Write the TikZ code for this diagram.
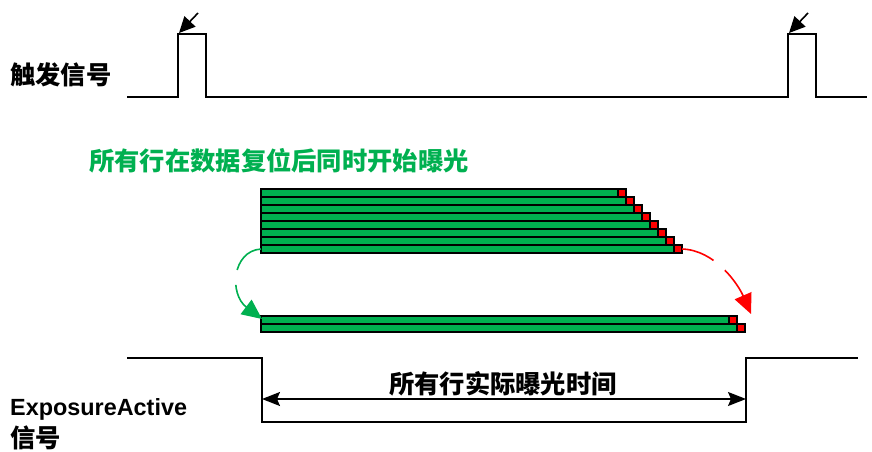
\documentclass[tikz,border=0pt]{standalone}
\usepackage{fontspec}
\setmainfont{Liberation Sans}
\newfontfamily\cjk{Noto Sans CJK SC}
\usetikzlibrary{arrows.meta}
\definecolor{rowgreen}{RGB}{0, 176, 80}
\definecolor{rowred}{RGB}{255, 0, 0}
\definecolor{linecol}{RGB}{0, 0, 0}
\tikzset{
  sig/.style      = {draw=linecol, line width=1.6pt, line join=miter},
  cjklbl/.style   = {font=\cjk\bfseries\fontsize{25.3}{29}\selectfont, inner sep=0pt},
  latlbl/.style   = {font=\bfseries\fontsize{23.4}{27}\selectfont, inner sep=0pt},
  rowbar/.style   = {draw=linecol, line width=1.4pt, fill=rowgreen},
  rowend/.style   = {draw=linecol, line width=1.4pt, fill=rowred},
  % the trigger marks are short solid pointers onto each rising edge
  trig/.style     = {draw=linecol, line width=1.6pt,
                     -{Triangle[length=16pt, width=15pt]}},
  % the row hand-over is dashed, green at the start, red at the end
  hop/.style      = {line width=1.6pt, dash pattern=on 34pt off 15pt,
                     -{Triangle[length=20pt, width=18pt]}},
  span/.style     = {draw=linecol, line width=1.6pt,
                     {Stealth[length=18pt, width=14pt, inset=3pt]}-{Stealth[length=18pt, width=14pt, inset=3pt]}},
}

\begin{document}
\begin{tikzpicture}[x=1pt, y=-1pt]
  \useasboundingbox (0,0) rectangle (872,452);

  %% ================ trigger signal ================
  \node[cjklbl, anchor=west] (triglbl) at (10,75) {触发信号};
  \draw[sig] (127,97) -- (178,97) -- (178,34) -- (206,34) -- (206,97)
    -- (788,97) -- (788,34) -- (816,34) -- (816,97) -- (867,97);
  \coordinate (edgeA) at (179,33);
  \coordinate (edgeB) at (789,33);
  \draw[trig] (edgeA) ++(19,-20) coordinate (fromA) -- (edgeA);
  \draw[trig] (edgeB) ++(19,-20) coordinate (fromB) -- (edgeB);

  %% ================ rows after the reset ================
  \node[cjklbl, anchor=west, text=rowgreen] (startlbl) at (89,161)
       {所有行在数据复位后同时开始曝光};
  \foreach \i in {0,...,7} {
    \draw[rowbar] (261,{189+8*\i}) rectangle ({618+8*\i},{197+8*\i});
    \draw[rowend] ({618+8*\i},{189+8*\i}) rectangle ++(8,8);
  }
  \coordinate (topL) at (261,249);
  \coordinate (topR) at (682,249);

  \foreach \i in {0,1} {
    \draw[rowbar] (261,{316+8*\i}) rectangle ({729+8*\i},{324+8*\i});
    \draw[rowend] ({729+8*\i},{316+8*\i}) rectangle ++(8,8);
  }
  \coordinate (lowL) at (262,319);
  \coordinate (lowR) at (751,314);

  \draw[hop, rowgreen] (topL) .. controls (232,251) and (229,294) .. (lowL);
  \draw[hop, rowred] (topR) .. controls (715,250) and (738,284) .. (lowR);

  %% ================ ExposureActive ================
  \node[latlbl, anchor=base west] (explbl) at (10,415) {ExposureActive};
  \node[cjklbl, anchor=base west] (explbl2) at (10,447) {信号};
  \draw[sig] (127,358) -- (262,358) -- (262,422) -- (746,422) -- (746,358)
    -- (858,358);
  \coordinate (spanL) at (262,399);
  \coordinate (spanR) at (746,399);
  \draw[span] (spanL) -- (spanR);
  \node[cjklbl] (spanlbl) at (503,384) {所有行实际曝光时间};

\end{tikzpicture}
\end{document}
